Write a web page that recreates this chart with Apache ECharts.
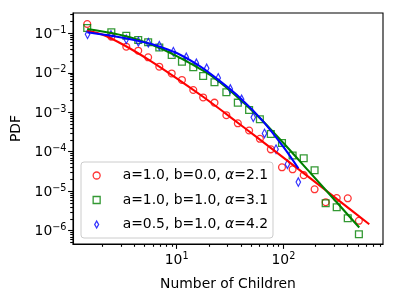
<!DOCTYPE html>
<html><head><meta charset="utf-8">
<script src="https://cdn.jsdelivr.net/npm/echarts@6/dist/echarts.min.js"></script>
<style>html,body{margin:0;padding:0;background:#fff}#c{width:396px;height:302px}</style>
</head><body><div id="c"></div>
<script>
// ---- data ----
const binsRG = [1.45, 2.44, 3.37, 4.36, 5.4, 6.87, 8.98, 11.2, 14.3, 17.7, 22.6, 29.2, 37.4, 47.7, 60.2, 76.2, 97, 122, 155, 196, 249, 316, 401, 510];
const redY = [0.172, 0.082, 0.0458, 0.0362, 0.0247, 0.01426, 0.0096, 0.00657, 0.00366, 0.00237, 0.00175, 0.000843, 0.000525, 0.000345, 0.000213, 0.000115, 4.04e-5, 3.59e-5, 2.55e-5, 1.12e-5, 5.27e-6, 6.73e-6, 6.62e-6, 1.78e-6];
const greenY = [0.136, 0.106, 0.0869, 0.0676, 0.0591, 0.0437, 0.0282, 0.0191, 0.01377, 0.00828, 0.00577, 0.00322, 0.00175, 0.00114, 0.000664, 0.000281, 0.000166, 8.03e-5, 6.83e-5, 3.39e-5, 4.94e-6, 3.92e-6, 2.06e-6, 8.15e-7];
const blueX = [1.46, 2.42, 3.37, 4.37, 5.42, 6.87, 9.3, 12.3, 15.3, 19.1, 24.5, 31.8, 40.6, 52.2, 66.5, 85.3, 109, 138];
const blueY = [0.0944, 0.0906, 0.0705, 0.0612, 0.0578, 0.0485, 0.0342, 0.0247, 0.0174, 0.0130, 0.00738, 0.00388, 0.00213, 0.000745, 0.00029, 0.000116, 4.83e-5, 1.71e-5];

const redFitX = [1.45, 2.0, 3.16, 5.62, 10, 17.8, 31.6, 56.2, 100, 178, 316, 638];
const redFitY = [0.1164, 0.0933, 0.0513, 0.0204, 0.00724, 0.00243, 0.000767, 0.000234, 7.08e-5, 2.14e-5, 6.38e-6, 1.46e-6];
const greenFitX = [1.45, 2.51, 3.98, 6.68, 10, 15.8, 20.6, 31.6, 60.4, 100, 178, 316, 514];
const greenFitY = [0.129, 0.1, 0.0741, 0.0442, 0.0263, 0.0135, 0.00879, 0.00355, 0.000708, 0.000166, 2.95e-5, 5.25e-6, 1.2e-6];
const blueFitX = [1.45, 2.51, 3.98, 6.31, 10, 15.8, 25.1, 39.8, 63.1, 100, 138];
const blueFitY = [0.106, 0.0851, 0.0676, 0.0501, 0.0316, 0.0158, 0.00631, 0.00224, 0.000631, 0.000132, 3.8e-5];

const seriesNames = ['a=1.0, b=0.0, α=2.1', 'a=1.0, b=1.0, α=3.1', 'a=0.5, b=1.0, α=4.2'];
const xMajor = [10, 100];
const yMajor = [1e-6, 1e-5, 1e-4, 1e-3, 1e-2, 1e-1];
const minorMult = [2, 3, 4, 5, 6, 7, 8, 9];
const xRange = [1.067, 858];
const yRange = [4.6e-7, 0.3266];
const xTitle = 'Number of Children';
const yTitle = 'PDF';

// ---- build ----
const L = Math.log10;
const pts = (xs, ys) => xs.map((x, i) => [L(x), L(ys[i])]);
function minors(lo, hi) {
  const out = [];
  for (let k = Math.floor(lo) - 1; k <= Math.ceil(hi); k++) {
    minorMult.forEach(m => { const v = k + L(m); if (v >= lo && v <= hi) out.push(v); });
  }
  return out;
}
const FONT = 'DejaVu Sans';
const FS = 13.9;
const xl = [L(xRange[0]), L(xRange[1])];
const yl = [L(yRange[0]), L(yRange[1])];
const supFmt = v => { const e = Math.round(v); return '{b|10}{s|' + (e < 0 ? '\u2212' + (-e) : e) + '}'; };
const richSup = {
  b: { fontFamily: FONT, fontSize: FS, color: '#000', lineHeight: 16, padding: [2, 0, 0, 0] },
  s: { fontFamily: FONT, fontSize: 9.7, color: '#000', lineHeight: 10, verticalAlign: 'top' }
};
const tickCommon = { lineStyle: { color: '#000', width: 1.1 } };

const red = '#ff0000', green = '#008000', blue = '#0000ff';
const hollow = c => ({ color: 'rgba(0,0,0,0)', borderColor: c, borderWidth: 1.3 });
const circlePath = 'path://M0,-1A1,1,0,1,1,0,1A1,1,0,1,1,0,-1Z';
const squarePath = 'path://M-1,-1L1,-1L1,1L-1,1Z';
const diamondPath = 'path://M0,-1.8L1,0L0,1.8L-1,0Z';

const option = {
  animation: false,
  backgroundColor: '#fff',
  grid: { left: 73, top: 13, width: 310, height: 231, show: true, borderColor: '#000', borderWidth: 1.1, backgroundColor: 'transparent' },
  xAxis: [
    { type: 'value', min: xl[0], max: xl[1], position: 'bottom',
      name: xTitle, nameLocation: 'middle', nameGap: 33,
      nameTextStyle: { fontFamily: FONT, fontSize: FS, color: '#000' },
      axisLine: { show: true, lineStyle: { color: '#000', width: 1.1 } },
      axisTick: { ...tickCommon, length: 4.9, customValues: xMajor.map(L) },
      axisLabel: { customValues: xMajor.map(L), formatter: supFmt, rich: richSup, margin: 7 },
      splitLine: { show: false } },
    { type: 'value', min: xl[0], max: xl[1], position: 'bottom', gridIndex: 0,
      axisLine: { show: false },
      axisTick: { ...tickCommon, length: 2.8, customValues: minors(xl[0], xl[1]) },
      axisLabel: { show: false }, splitLine: { show: false } }
  ],
  yAxis: [
    { type: 'value', min: yl[0], max: yl[1], position: 'left',
      name: yTitle, nameLocation: 'middle', nameGap: 49,
      nameTextStyle: { fontFamily: FONT, fontSize: FS, color: '#000' },
      axisLine: { show: true, lineStyle: { color: '#000', width: 1.1 } },
      axisTick: { ...tickCommon, length: 4.9, customValues: yMajor.map(L) },
      axisLabel: { customValues: yMajor.map(L), formatter: supFmt, rich: richSup, margin: 6.5 },
      splitLine: { show: false } },
    { type: 'value', min: yl[0], max: yl[1], position: 'left', gridIndex: 0,
      axisLine: { show: false },
      axisTick: { ...tickCommon, length: 2.8, customValues: minors(yl[0], yl[1]) },
      axisLabel: { show: false }, splitLine: { show: false } }
  ],
  legend: {
    orient: 'vertical', left: 81, top: 162,
    padding: [5.5, 5, 5.5, 11.5], itemWidth: 14, itemHeight: 7, itemGap: 8.5,
    backgroundColor: 'rgba(255,255,255,0.8)', borderColor: '#cccccc', borderWidth: 1, borderRadius: 3,
    textStyle: { fontFamily: FONT, fontSize: FS, color: '#000', lineHeight: 16,
      rich: {
        sp: { width: 14, lineHeight: 16, fontSize: FS },
        t: { fontFamily: FONT, fontSize: FS, color: '#000', lineHeight: 16 },
        i: { fontFamily: FONT, fontSize: FS, color: '#000', lineHeight: 16, fontStyle: 'italic' }
      } },
    formatter: n => { const p = n.split('α'); return '{sp| }{t|' + p[0] + '}{i|α}{t|' + p[1] + '}'; },
    data: [
      { name: seriesNames[0], icon: circlePath, itemStyle: hollow(red) },
      { name: seriesNames[1], icon: squarePath, itemStyle: hollow(green) },
      { name: seriesNames[2], icon: diamondPath, itemStyle: hollow(blue) }
    ]
  },
  series: [
    { name: seriesNames[0], type: 'scatter', data: pts(binsRG, redY), symbol: 'circle', symbolSize: 6.8, itemStyle: hollow(red), z: 2 },
    { name: seriesNames[1], type: 'scatter', data: pts(binsRG, greenY), symbol: 'rect', symbolSize: 6.8, itemStyle: hollow(green), z: 2 },
    { name: seriesNames[2], type: 'scatter', data: pts(blueX, blueY), symbol: 'diamond', symbolSize: [4.5, 8.5], itemStyle: hollow(blue), z: 2 },
    { name: 'fit0', type: 'line', data: pts(redFitX, redFitY), showSymbol: false, smooth: 0.3, lineStyle: { color: red, width: 2.08 }, z: 3 },
    { name: 'fit1', type: 'line', data: pts(greenFitX, greenFitY), showSymbol: false, smooth: 0.3, lineStyle: { color: green, width: 2.08 }, z: 3 },
    { name: 'fit2', type: 'line', data: pts(blueFitX, blueFitY), showSymbol: false, smooth: 0.3, lineStyle: { color: blue, width: 2.08 }, z: 3 }
  ]
};
const chart = echarts.init(document.getElementById('c'), null, { renderer: 'canvas' });
chart.setOption(option);
</script></body></html>
